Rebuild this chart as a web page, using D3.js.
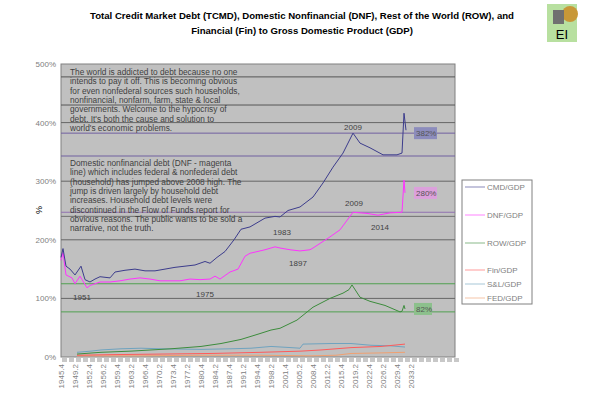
<!DOCTYPE html>
<html><head><meta charset="utf-8">
<script src="https://cdn.jsdelivr.net/npm/d3@7"></script>
<style>body{margin:0;background:#fff;font-family:"Liberation Sans",Arial,sans-serif}</style>
</head><body><svg id="c" width="600" height="408"></svg>
<script>
// quarter index (0 = 1945.4) and % of GDP
const cmd = [[0,170],[2,185],[5,155],[9,150],[14,140],[20,155],[24,132],[29,128],[34,133],[39,137],[49,135],[54,145],[64,148],[74,150],[84,147],[94,147],[104,150],[114,153],[124,155],[134,157],[144,163],[149,160],[156,170],[164,180],[173,200],[180,218],[189,222],[197,230],[204,237],[214,240],[219,239],[227,250],[239,256],[252,273],[262,297],[272,324],[282,348],[292,382],[299,365],[309,357],[322,345],[336,345],[341,348],[343,416],[345,387]];
const dnf = [[0,165],[2,178],[5,140],[11,135],[14,125],[19,138],[26,118],[29,122],[39,128],[49,128],[59,130],[69,133],[79,135],[89,133],[99,130],[109,130],[119,130],[129,133],[139,132],[149,133],[154,138],[159,133],[169,145],[177,150],[184,172],[189,177],[204,183],[214,188],[219,186],[229,183],[239,181],[249,183],[252,186],[269,205],[279,217],[292,247],[306,245],[317,242],[329,246],[341,247],[343,302],[344,280]];
const row = [[16,5],[40,8],[70,10],[110,14],[140,18],[160,23],[180,30],[199,40],[210,46],[219,49],[236,63],[252,85],[269,100],[282,109],[288,115],[291,123],[299,102],[309,95],[324,88],[339,77],[341,78],[343,88],[344,82]];
const fin = [[16,3],[50,4],[100,5],[150,6],[200,8],[240,10],[260,12],[290,16],[320,18],[344,22]];
const snl = [[16,8],[30,10],[40,12],[60,14],[80,15],[100,14],[140,13],[170,14],[190,15],[210,18],[230,16],[239,15],[242,22],[270,23],[290,23],[310,20],[330,19],[344,17]];
const fed = [[16,2],[80,2],[140,3],[200,3],[250,2],[275,3],[290,6],[320,7],[344,8]];

const series = [
  {name:"CMD/GDP", data:cmd, color:"#3c3c8c", ly:187},
  {name:"DNF/GDP", data:dnf, color:"#ff33ff", ly:215},
  {name:"ROW/GDP", data:row, color:"#3c8c3c", ly:243},
  {name:"Fin/GDP", data:fin, color:"#ff5a5a", ly:270},
  {name:"S&L/GDP", data:snl, color:"#6fa3bf", ly:284},
  {name:"FED/GDP", data:fed, color:"#f0a070", ly:298}
];
const xLabels = ["1945.4","1949.2","1952.4","1956.2","1959.4","1963.2","1966.4","1970.2","1973.4","1977.2","1980.4","1984.2","1987.4","1991.2","1994.4","1998.2","2001.4","2005.2","2008.4","2012.2","2015.4","2019.2","2022.4","2026.2","2029.4","2033.2"];
const yTicks = [0,100,200,300,400,500];
const refLines = [[478,"#555"],[430,"#555"],[382,"#7060a0"],[343,"#7060a0"],[247,"#9070b0"],[240,"#707070"],[125,"#50a050"],[77,"#50a050"]];
const endLabels = [["382%",382,"#8c8cbc"],["280%",280,"#dca0dc"],["82%",82,"#8cc08c"]];
const notes = [["1951",21,102],["1975",144,108],["1983",221,213],["1897",237,160],["2009",292,393],["2009",293,263],["2014",319,222]];
const text1 = ["The world is addicted to debt because no one","intends to pay it off.  This is becoming obvious","for even nonfederal sources such households,","nonfinancial, nonfarm, farm, state & local","governments.  Welcome to the hypocrisy of","debt.  It's both the cause and solution to","world's economic problems."];
const text2 = ["Domestic nonfinancial debt (DNF - magenta","line) which includes federal & nonfederal debt","(household) has jumped above 2008 high.  The","jump is driven largely by household  debt","increases.  Household  debt levels were","discontinued in the Flow of Funds report for","obvious reasons.  The public wants to be sold a","narrative, not the truth."];

const svg = d3.select("#c");
const L=61, R=455, T=64, B=357;
const x = d3.scaleLinear().domain([0,394]).range([L,R]);
const y = d3.scaleLinear().domain([0,500]).range([B,T]);

svg.append("text").attr("x",302).attr("y",19).attr("text-anchor","middle").attr("font-size",9.6).attr("font-weight","bold")
  .text("Total Credit Market Debt (TCMD), Domestic Nonfinancial (DNF), Rest of the World (ROW), and");
svg.append("text").attr("x",302).attr("y",34).attr("text-anchor","middle").attr("font-size",9.6).attr("font-weight","bold")
  .text("Financial (Fin) to Gross Domestic Product (GDP)");
// logo
svg.append("rect").attr("x",547).attr("y",4).attr("width",30).attr("height",38).attr("fill","#b8e0a0");
svg.append("circle").attr("cx",570).attr("cy",14).attr("r",8).attr("fill","#c89838");
svg.append("rect").attr("x",553).attr("y",10).attr("width",11).attr("height",14).attr("fill","#707070");
svg.append("text").attr("x",562).attr("y",39).attr("text-anchor","middle").attr("font-size",13).text("EI");

svg.append("rect").attr("x",L).attr("y",T).attr("width",R-L).attr("height",B-T).attr("fill","#c0c0c0").attr("stroke","#808080");
svg.selectAll(".g").data(yTicks.slice(1,-1)).join("line").attr("x1",L).attr("x2",R).attr("y1",d=>y(d)).attr("y2",d=>y(d)).attr("stroke","#666");
svg.selectAll(".r").data(refLines).join("line").attr("x1",L).attr("x2",R).attr("y1",d=>y(d[0])).attr("y2",d=>y(d[0])).attr("stroke",d=>d[1]);

svg.selectAll(".yt").data(yTicks).join("text").attr("x",L-5).attr("y",d=>y(d)+3).attr("text-anchor","end").attr("font-size",8).attr("fill","#808080").text(d=>d+"%");
svg.append("text").attr("transform","translate(36,210) rotate(90)").attr("font-size",9).attr("text-anchor","middle").text("%");

// tick stripes under axis
svg.selectAll(".tk").data(d3.range(0,394,7)).join("rect").attr("x",d=>x(d)+1).attr("y",B+1).attr("width",5).attr("height",4).attr("fill","#c8c8c8");
svg.selectAll(".xt").data(xLabels).join("text")
  .attr("transform",(d,i)=>`translate(${x(i*14)+3},${B+7}) rotate(-90)`).attr("text-anchor","end").attr("font-size",8).attr("fill","#808080").text(d=>d);

const line = d3.line().x(d=>x(d[0])).y(d=>y(d[1]));
series.slice().reverse().forEach(s=>{
  svg.append("path").attr("d",line(s.data)).attr("fill","none").attr("stroke",s.color).attr("stroke-width",1);
});

svg.selectAll(".el").data(endLabels).join("rect").attr("x",414).attr("y",d=>y(d[1])-6).attr("width",d=>d[0].length*5+3).attr("height",12).attr("fill",d=>d[2]);
svg.selectAll(".et").data(endLabels).join("text").attr("x",416).attr("y",d=>y(d[1])+3).attr("font-size",8).attr("fill","#555").text(d=>d[0]);
svg.selectAll(".nt").data(notes).join("text").attr("x",d=>x(d[1])).attr("y",d=>y(d[2])+3).attr("text-anchor","middle").attr("font-size",8).attr("fill","#404040").text(d=>d[0]);

svg.selectAll(".t1").data(text1).join("text").attr("x",70).attr("y",(d,i)=>75+i*9.3).attr("font-size",8.3).attr("fill","#404040").text(d=>d);
svg.selectAll(".t2").data(text2).join("text").attr("x",70).attr("y",(d,i)=>166+i*9.3).attr("font-size",8.3).attr("fill","#404040").text(d=>d);

// legend
svg.append("rect").attr("x",462).attr("y",180).attr("width",70).attr("height",124).attr("fill","#fff").attr("stroke","#808080");
const lg = svg.selectAll(".lg").data(series).join("g").attr("transform",d=>`translate(465,${d.ly})`);
lg.append("line").attr("x1",0).attr("x2",20).attr("stroke",d=>d.color).attr("opacity",0.6);
lg.append("text").attr("x",22).attr("y",3).attr("font-size",8).attr("fill","#808080").text(d=>d.name);
</script></body></html>
